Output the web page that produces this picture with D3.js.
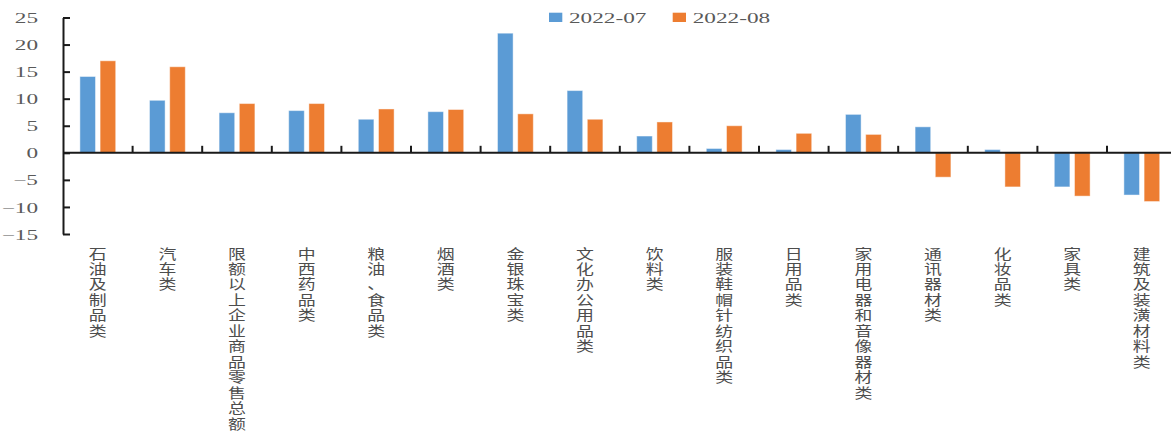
<!DOCTYPE html>
<html>
<head>
<meta charset="utf-8">
<script src="https://cdn.jsdelivr.net/npm/d3@7"></script>
<style>
  html, body { margin: 0; padding: 0; background: #fff; }
  svg { display: block; }
</style>
</head>
<body>
<svg id="chart" width="1171" height="434"></svg>
<script>
// Retail sales growth by commodity category, year-on-year (%)
const categories = [
  "石油及制品类", "汽车类", "限额以上企业商品零售总额", "中西药品类",
  "粮油、食品类", "烟酒类", "金银珠宝类", "文化办公用品类",
  "饮料类", "服装鞋帽针纺织品类", "日用品类", "家用电器和音像器材类",
  "通讯器材类", "化妆品类", "家具类", "建筑及装潢材料类"
];
const seriesNames = ["2022-07", "2022-08"];
const values0722 = [14.1, 9.7, 7.4, 7.8, 6.2, 7.6, 22.1, 11.5, 3.1, 0.8, 0.6, 7.1, 4.8, 0.6, -6.3, -7.8];
const values0822 = [17.0, 15.9, 9.1, 9.1, 8.1, 8.0, 7.2, 6.2, 5.7, 5.0, 3.6, 3.4, -4.5, -6.3, -8.0, -9.0];
const yTicks = [25, 20, 15, 10, 5, 0, -5, -10, -15];
const colors = ["#5B9BD5", "#ED7D31"];

const svg = d3.select("#chart");

const plotLeft = 63, plotTop = 17.5, plotBottom = 234;
const catStep = 69.6;

const x = d3.scaleBand()
  .domain(categories)
  .range([plotLeft, plotLeft + catStep * categories.length])
  .padding(0);

const xSub = d3.scaleBand()
  .domain(seriesNames)
  .range([16.9, catStep - 16.9])
  .paddingInner(0.228)
  .paddingOuter(0);

const y = d3.scaleLinear().domain([-15, 25]).range([plotBottom, plotTop]);

const table = categories.map((c, i) => ({
  category: c,
  items: [
    { series: seriesNames[0], value: values0722[i] },
    { series: seriesNames[1], value: values0822[i] }
  ]
}));

// Bars
const groups = svg.append("g")
  .selectAll("g")
  .data(table)
  .join("g")
  .attr("transform", d => `translate(${x(d.category)},0)`);

groups.selectAll("rect")
  .data(d => d.items)
  .join("rect")
  .attr("x", d => xSub(d.series))
  .attr("width", xSub.bandwidth())
  .attr("y", d => y(Math.max(0, d.value)))
  .attr("height", d => Math.abs(y(d.value) - y(0)))
  .attr("fill", (d, i) => colors[i])
  .attr("stroke", "#ffffff")
  .attr("stroke-opacity", 0.45)
  .attr("stroke-width", 1);

// Y axis with inward ticks
const yAxis = svg.append("g")
  .attr("transform", `translate(${plotLeft},0)`)
  .call(d3.axisLeft(y).tickValues(yTicks).tickSizeInner(-7).tickSizeOuter(0).tickPadding(0));

yAxis.select(".domain").attr("stroke", "#1a1a1a").attr("stroke-width", 2);
yAxis.selectAll(".tick line").attr("stroke", "#1a1a1a").attr("stroke-width", 2);
yAxis.selectAll(".tick text")
  .attr("x", -25 / 1.55)
  .attr("dy", "0.34em")
  .attr("transform", "scale(1.55,1)")
  .attr("text-anchor", "end")
  .attr("fill", "#595959")
  .style("font-family", "'Liberation Serif', 'DejaVu Serif', serif")
  .style("font-size", "15px");

// Zero baseline with category separators
svg.append("line")
  .attr("x1", plotLeft).attr("x2", 1171)
  .attr("y1", y(0)).attr("y2", y(0))
  .attr("stroke", "#1a1a1a").attr("stroke-width", 2);

svg.append("g")
  .selectAll("line")
  .data(categories.slice(1))
  .join("line")
  .attr("x1", d => x(d)).attr("x2", d => x(d))
  .attr("y1", y(0)).attr("y2", y(0) - 7)
  .attr("stroke", "#1a1a1a").attr("stroke-width", 2);

// Category labels, written vertically one character per line
const labelGroups = svg.append("g")
  .selectAll("g")
  .data(categories)
  .join("g")
  .attr("transform", d => `translate(${x(d) + x.bandwidth() / 2},258.5) scale(1.28,1)`);

labelGroups.append("text")
  .attr("text-anchor", "middle")
  .attr("fill", "#4d4d4d")
  .style("font-family", "'Liberation Serif', 'Noto Sans CJK SC', sans-serif")
  .style("font-size", "14px")
  .selectAll("tspan")
  .data(d => Array.from(d))
  .join("tspan")
  .attr("x", 0)
  .attr("y", (d, i) => i * 15.5)
  .text(d => d);

// Legend
const legendX = [549, 672.7];
const legend = svg.append("g")
  .selectAll("g")
  .data(seriesNames)
  .join("g")
  .attr("transform", (d, i) => `translate(${legendX[i]},0)`);

legend.append("rect")
  .attr("x", 0).attr("y", 12.7)
  .attr("width", 13.3).attr("height", 9.3)
  .attr("fill", (d, i) => colors[i]);

legend.append("text")
  .attr("transform", "translate(20,22.5) scale(1.55,1)")
  .attr("fill", "#595959")
  .style("font-family", "'Liberation Serif', 'DejaVu Serif', serif")
  .style("font-size", "15px")
  .text(d => d);
</script>
</body>
</html>
